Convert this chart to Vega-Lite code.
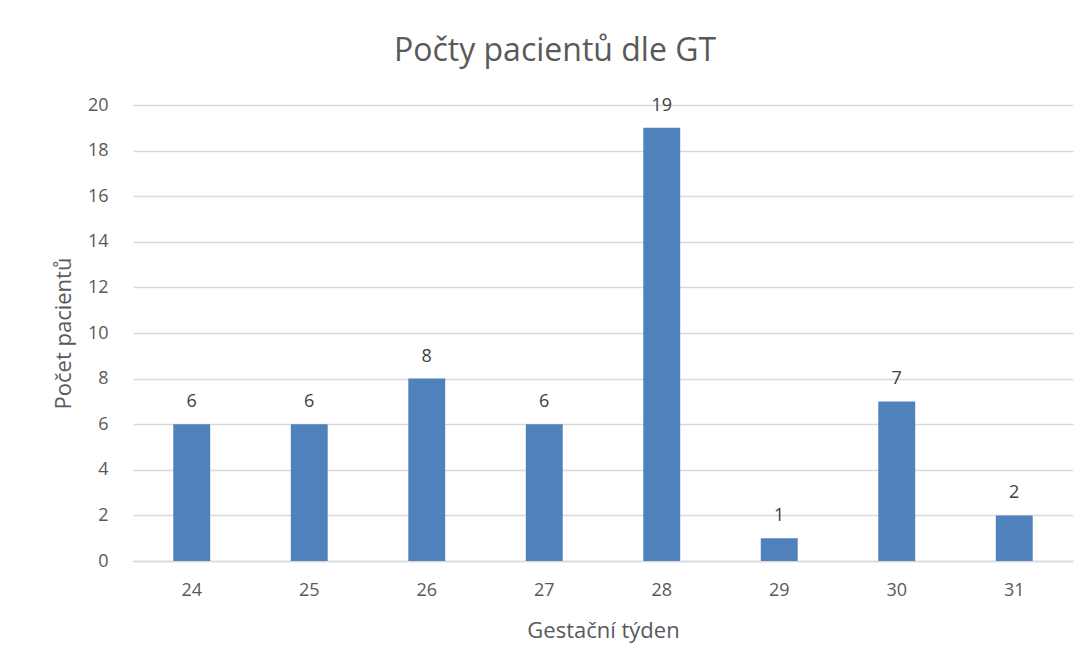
{
  "$schema": "https://vega.github.io/schema/vega-lite/v6.json",
  "width": 940,
  "height": 456,
  "autosize": {"type": "none"},
  "padding": {"left": 133, "top": 105, "right": 13, "bottom": 111},
  "background": "white",
  "title": {
    "text": "Počty pacientů dle GT",
    "fontSize": 32,
    "font": "Open Sans",
    "fontWeight": "normal",
    "color": "#595959",
    "anchor": "middle",
    "dx": -48,
    "offset": 28
  },
  "data": {
    "values": [
      {"tyden": "24", "pocet": 6},
      {"tyden": "25", "pocet": 6},
      {"tyden": "26", "pocet": 8},
      {"tyden": "27", "pocet": 6},
      {"tyden": "28", "pocet": 19},
      {"tyden": "29", "pocet": 1},
      {"tyden": "30", "pocet": 7},
      {"tyden": "31", "pocet": 2}
    ]
  },
  "encoding": {
    "x": {
      "field": "tyden",
      "type": "ordinal",
      "sort": null,
      "scale": {"paddingInner": 0.686, "paddingOuter": 0.343},
      "axis": {
        "title": "Gestační týden",
        "labelAngle": 0,
        "ticks": false,
        "domainColor": "#d9d9d9",
        "domainWidth": 1.5,
        "labelPadding": 20,
        "titlePadding": 21
      }
    },
    "y": {
      "field": "pocet",
      "type": "quantitative",
      "scale": {"domain": [0, 20]},
      "axis": {
        "title": "Počet pacientů",
        "values": [0, 2, 4, 6, 8, 10, 12, 14, 16, 18, 20],
        "ticks": false,
        "domain": false,
        "gridColor": "#d9d9d9",
        "gridWidth": 1.5,
        "labelPadding": 25,
        "titlePadding": 12
      }
    }
  },
  "layer": [
    {"mark": {"type": "bar", "color": "#4f81bd"}},
    {
      "mark": {"type": "text", "baseline": "alphabetic", "dy": -17, "fontSize": 18, "font": "Open Sans", "color": "#404040"},
      "encoding": {"text": {"field": "pocet", "type": "quantitative"}}
    }
  ],
  "config": {
    "view": {"stroke": null},
    "axis": {
      "labelFont": "Open Sans",
      "labelFontSize": 18,
      "labelColor": "#595959",
      "titleFont": "Open Sans",
      "titleFontSize": 22,
      "titleFontWeight": "normal",
      "titleColor": "#595959"
    }
  }
}
